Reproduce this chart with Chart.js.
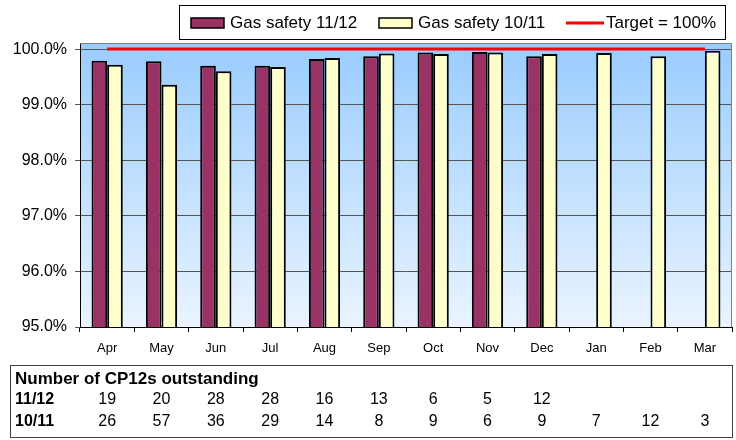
<!DOCTYPE html>
<html><head><meta charset="utf-8">
<script src="https://cdn.jsdelivr.net/npm/chart.js@4/dist/chart.umd.min.js"></script>
<style>html,body{margin:0;padding:0;background:#fff;}#wrap{width:736px;height:440px;position:relative;}</style>
</head><body><div id="wrap"><canvas id="c" width="736" height="440"></canvas></div>
<script>
const months = ['Apr','May','Jun','Jul','Aug','Sep','Oct','Nov','Dec','Jan','Feb','Mar'];
const safety1112 = [99.79, 99.78, 99.70, 99.70, 99.82, 99.87, 99.94, 99.95, 99.87, null, null, null];
const safety1011 = [99.72, 99.36, 99.60, 99.68, 99.84, 99.92, 99.91, 99.94, 99.91, 99.93, 99.87, 99.97];
const target = [100, 100, 100, 100, 100, 100, 100, 100, 100, 100, 100, 100];
const outstanding1112 = [19, 20, 28, 28, 16, 13, 6, 5, 12, null, null, null];
const outstanding1011 = [26, 57, 36, 29, 14, 8, 9, 6, 9, 7, 12, 3];
const yTicks = [95, 96, 97, 98, 99, 100];
const yTickLabels = ['95.0%', '96.0%', '97.0%', '98.0%', '99.0%', '100.0%'];
const seriesLabels = ['Gas safety 11/12', 'Gas safety 10/11', 'Target = 100%'];
const tableTitle = 'Number of CP12s outstanding';
const rowLabels = ['11/12', '10/11'];

const FONT = 'Arial, "Liberation Sans", sans-serif';
const MAROON = '#993366', CREAM = '#FFFFCC', RED = '#FF0000';

const bgPlugin = {
  id: 'bg',
  beforeDraw(chart) {
    const {ctx, chartArea: a} = chart;
    const g = ctx.createLinearGradient(0, a.top, 0, a.bottom);
    g.addColorStop(0, '#99CCFF');
    g.addColorStop(1, '#EAF4FF');
    ctx.save();
    ctx.fillStyle = g;
    ctx.fillRect(a.left, a.top, a.right - a.left, a.bottom - a.top);
    ctx.restore();
  },
  afterDatasetsDraw(chart) {
    const {ctx, chartArea: a} = chart;
    ctx.save();
    ctx.strokeStyle = '#808080';
    ctx.lineWidth = 1;
    ctx.beginPath();
    ctx.moveTo(a.left, a.top + 0.5);
    ctx.lineTo(a.right - 0.5, a.top + 0.5);
    ctx.lineTo(a.right - 0.5, a.bottom);
    ctx.stroke();
    ctx.restore();
  }
};

const legendPlugin = {
  id: 'customLegend',
  afterDraw(chart) {
    const ctx = chart.ctx;
    ctx.save();
    ctx.strokeStyle = '#000';
    ctx.lineWidth = 1;
    ctx.strokeRect(179.5, 5.5, 546, 34);
    ctx.font = '17px ' + FONT;
    ctx.fillStyle = '#000';
    ctx.textBaseline = 'middle';
    const cy = 23;
    ctx.fillStyle = chart.data.datasets[0].backgroundColor;
    ctx.fillRect(191, 18, 33, 10);
    ctx.lineWidth = 1.5; ctx.strokeStyle = '#000';
    ctx.strokeRect(191, 18, 33, 10);
    ctx.fillStyle = '#000';
    ctx.fillText(chart.data.datasets[0].label, 230, cy);
    ctx.fillStyle = chart.data.datasets[1].backgroundColor;
    ctx.fillRect(379, 18, 33, 10);
    ctx.strokeRect(379, 18, 33, 10);
    ctx.fillStyle = '#000';
    ctx.fillText(chart.data.datasets[1].label, 418, cy);
    ctx.strokeStyle = chart.data.datasets[2].borderColor;
    ctx.lineWidth = 3;
    ctx.beginPath(); ctx.moveTo(566, cy); ctx.lineTo(604, cy); ctx.stroke();
    ctx.fillText(chart.data.datasets[2].label, 606, cy);
    ctx.restore();
  }
};

const tablePlugin = {
  id: 'dataTable',
  afterDraw(chart) {
    const ctx = chart.ctx;
    const x = chart.scales.x;
    ctx.save();
    ctx.strokeStyle = '#404040';
    ctx.lineWidth = 1;
    ctx.strokeRect(10.5, 365.5, 722, 72);
    ctx.fillStyle = '#000';
    ctx.textBaseline = 'middle';
    ctx.textAlign = 'left';
    ctx.font = 'bold 17px ' + FONT;
    ctx.fillText(tableTitle, 15, 379);
    ctx.font = 'bold 16px ' + FONT;
    ctx.fillText(rowLabels[0], 15, 400);
    ctx.fillText(rowLabels[1], 15, 422);
    ctx.font = '16px ' + FONT;
    ctx.textAlign = 'center';
    months.forEach((m, i) => {
      const px = x.getPixelForValue(i);
      if (outstanding1112[i] !== null) ctx.fillText(String(outstanding1112[i]), px, 400);
      if (outstanding1011[i] !== null) ctx.fillText(String(outstanding1011[i]), px, 422);
    });
    ctx.restore();
  }
};

new Chart(document.getElementById('c'), {
  data: {
    labels: months,
    datasets: [
      { type: 'bar', label: seriesLabels[0], data: safety1112, backgroundColor: MAROON, borderColor: '#000', borderWidth: 2, categoryPercentage: 0.575, barPercentage: 1, order: 2 },
      { type: 'bar', label: seriesLabels[1], data: safety1011, backgroundColor: CREAM, borderColor: '#000', borderWidth: 2, categoryPercentage: 0.575, barPercentage: 1, order: 2 },
      { type: 'line', label: seriesLabels[2], data: target, borderColor: RED, borderWidth: 3, pointRadius: 0, fill: false, order: 1 }
    ]
  },
  options: {
    responsive: false,
    animation: false,
    devicePixelRatio: 1,
    layout: { padding: { left: 0, right: 4, top: 43, bottom: 0 } },
    plugins: { legend: { display: false }, tooltip: { enabled: false } },
    scales: {
      x: {
        type: 'category',
        offset: true,
        grid: { display: true, offset: true, drawOnChartArea: false, drawTicks: true, tickLength: 5, color: '#000' },
        border: { color: '#000', width: 1 },
        ticks: { font: { family: FONT, size: 13 }, color: '#000', padding: 9, maxRotation: 0 },
        afterFit(s) { s.height = 113; }
      },
      y: {
        type: 'linear',
        min: 95,
        max: 100.11,
        afterBuildTicks(s) { s.ticks = yTicks.map(v => ({ value: v })); },
        grid: { color: '#555', tickLength: 5, drawTicks: true },
        border: { color: '#000', width: 1 },
        ticks: {
          font: { family: FONT, size: 16 }, color: '#000', padding: 8,
          callback: (v) => yTickLabels[yTicks.indexOf(v)]
        },
        afterFit(s) { s.width = 80; }
      }
    }
  },
  plugins: [bgPlugin, legendPlugin, tablePlugin]
});
</script>
</body></html>
